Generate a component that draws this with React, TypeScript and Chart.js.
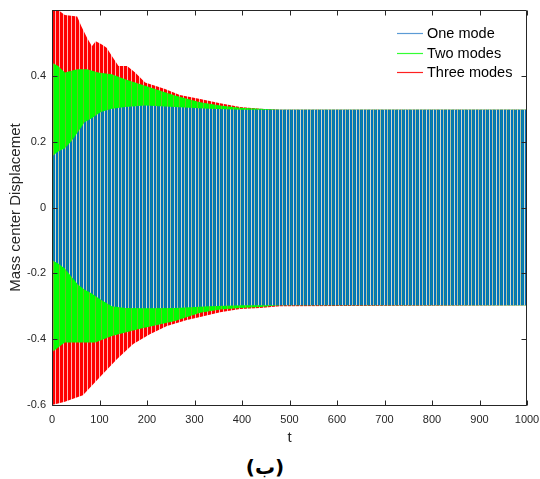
import React, { useEffect, useRef } from "react";
import { Chart, registerables } from "chart.js";

Chart.register(...registerables);

// ---- Data (envelopes of the oscillations) ----
const seriesNames = ["One mode", "Two modes", "Three modes"];
const seriesColors = ["#0072BD", "#00FF00", "#FF0000"];
const legendLineColors = ["#5b9bd5", "#33ff33", "#ff2020"];

const oneUpperT = [0, 13, 27, 40, 55, 69, 82, 103, 126, 154, 196, 259, 330, 400, 1000];
const oneUpper = [0.155, 0.17, 0.18, 0.2, 0.23, 0.26, 0.27, 0.29, 0.3, 0.305, 0.31, 0.305, 0.3, 0.297, 0.297];
const oneLowerT = [0, 13, 27, 41, 55, 69, 82, 103, 126, 154, 196, 259, 330, 400, 1000];
const oneLower = [-0.16, -0.17, -0.185, -0.21, -0.235, -0.25, -0.26, -0.28, -0.3, -0.305, -0.306, -0.305, -0.3, -0.297, -0.297];

const twoUpperT = [0, 13, 27, 53, 74, 97, 126, 154, 196, 259, 312, 354, 396, 438, 480, 1000];
const twoUpper = [0.44, 0.43, 0.41, 0.42, 0.42, 0.41, 0.405, 0.39, 0.37, 0.34, 0.32, 0.31, 0.303, 0.3, 0.297, 0.297];
const twoLowerT = [0, 27, 91, 126, 181, 259, 312, 354, 396, 438, 480, 1000];
const twoLower = [-0.44, -0.41, -0.41, -0.39, -0.37, -0.345, -0.32, -0.31, -0.305, -0.302, -0.297, -0.297];

const threeUpperT = [0, 13, 27, 53, 62, 74, 84, 92, 105, 115, 126, 140, 158, 175, 196, 217, 238, 269, 312, 354, 396, 438, 480, 1000];
const threeUpper = [0.6, 0.6, 0.585, 0.58, 0.55, 0.515, 0.49, 0.505, 0.495, 0.485, 0.46, 0.43, 0.43, 0.41, 0.38, 0.37, 0.36, 0.342, 0.33, 0.317, 0.305, 0.3, 0.297, 0.297];
const threeLowerT = [0, 27, 65, 101, 137, 171, 206, 242, 284, 312, 354, 396, 438, 480, 1000];
const threeLower = [-0.6, -0.59, -0.57, -0.515, -0.46, -0.415, -0.385, -0.36, -0.342, -0.333, -0.318, -0.308, -0.305, -0.3, -0.297];

const xTicks = [0, 100, 200, 300, 400, 500, 600, 700, 800, 900, 1000];
const yTicks = [-0.6, -0.4, -0.2, 0, 0.2, 0.4];

const xTitle = "t";
const yTitle = "Mass center Displacemet";
const caption = "(ب)";

// ---- Helpers ----
const FONT = "'Liberation Sans', Arial, Helvetica, sans-serif";
const AXIS = "#262626";

function pts(t: number[], v: number[]) {
  return t.map((x, i) => ({ x, y: v[i] }));
}

function stripePattern(cols: string[]): CanvasPattern | string {
  const c = document.createElement("canvas");
  c.width = cols.length;
  c.height = 1;
  const g = c.getContext("2d");
  if (!g) return cols[0];
  cols.forEach((col, i) => {
    g.fillStyle = col;
    g.fillRect(i, 0, 1, 1);
  });
  const p = g.createPattern(c, "repeat");
  return p || cols[0];
}

const boxPlugin = {
  id: "matlabBox",
  afterDraw(chart: any) {
    const { ctx, chartArea } = chart;
    const { left, right, top, bottom } = chartArea;
    const xs = chart.scales.x;
    const ys = chart.scales.y;
    ctx.save();
    ctx.strokeStyle = AXIS;
    ctx.lineWidth = 1;
    const L = Math.round(left) + 0.5;
    const R = Math.round(right) - 0.5;
    const T = Math.round(top) + 0.5;
    const B = Math.round(bottom) + 0.5;
    ctx.beginPath();
    ctx.rect(L, T, R - L, B - T);
    const tl = 5;
    xTicks.forEach((v) => {
      const px = Math.round(xs.getPixelForValue(v)) + 0.5;
      ctx.moveTo(px, B);
      ctx.lineTo(px, B - tl);
      ctx.moveTo(px, T);
      ctx.lineTo(px, T + tl);
    });
    yTicks.forEach((v) => {
      const py = Math.round(ys.getPixelForValue(v)) + 0.5;
      ctx.moveTo(L, py);
      ctx.lineTo(L + tl, py);
      ctx.moveTo(R, py);
      ctx.lineTo(R - tl, py);
    });
    ctx.stroke();
    ctx.restore();
  },
};

const legendPlugin = {
  id: "innerLegend",
  afterDraw(chart: any) {
    const { ctx, chartArea } = chart;
    const x0 = chartArea.right - 130;
    const y0 = chartArea.top + 23;
    ctx.save();
    ctx.font = `14.5px ${FONT}`;
    ctx.textBaseline = "middle";
    ctx.textAlign = "left";
    seriesNames.forEach((name, i) => {
      const y = Math.round(y0 + i * 19.5) + 0.5;
      ctx.strokeStyle = legendLineColors[i];
      ctx.lineWidth = 1.2;
      ctx.beginPath();
      ctx.moveTo(x0, y);
      ctx.lineTo(x0 + 26, y);
      ctx.stroke();
      ctx.fillStyle = "#000";
      ctx.fillText(name, x0 + 30, y);
    });
    ctx.restore();
  },
};

export default function App() {
  const ref = useRef<HTMLCanvasElement>(null);

  useEffect(() => {
    document.body.style.margin = "0";
    const canvas = ref.current;
    if (!canvas) return;

    const bluePat = stripePattern(["#0072bd", "#0072bd", "#b8c8a0", "#0072bd", "#138690", "#0072bd", "#d0dcd0"]);
    const greenPat = stripePattern(["#00ff00", "#00ff00", "#00ff00", "#00ff00", "#00ff00", "#6cc020"]);
    const redPat = stripePattern(["#ff0000", "#ff0000", "#ff0000", "#ffb4b4"]);
    const pats = [bluePat, greenPat, redPat];

    const uppers = [pts(oneUpperT, oneUpper), pts(twoUpperT, twoUpper), pts(threeUpperT, threeUpper)];
    const lowers = [pts(oneLowerT, oneLower), pts(twoLowerT, twoLower), pts(threeLowerT, threeLower)];

    const datasets: any[] = [];
    seriesNames.forEach((name, i) => {
      datasets.push({
        label: name,
        data: uppers[i],
        borderColor: seriesColors[i],
        backgroundColor: pats[i],
        borderWidth: 0,
        pointRadius: 0,
        fill: "+1",
        tension: 0,
      });
      datasets.push({
        label: name + " (lower)",
        data: lowers[i],
        borderColor: seriesColors[i],
        backgroundColor: pats[i],
        borderWidth: 0,
        pointRadius: 0,
        fill: false,
        tension: 0,
      });
    });

    const chart = new Chart(canvas, {
      type: "line",
      data: { datasets },
      options: {
        responsive: false,
        animation: false,
        devicePixelRatio: 1,
        layout: { padding: { left: 0, top: 10, right: 13, bottom: 0 } },
        plugins: {
          legend: { display: false },
          tooltip: { enabled: false },
        },
        scales: {
          x: {
            type: "linear",
            min: 0,
            max: 1000,
            afterBuildTicks: (s: any) => {
              s.ticks = xTicks.map((v) => ({ value: v }));
            },
            afterFit: (s: any) => {
              s.height = 43;
              s.paddingLeft = 0;
              s.paddingRight = 0;
            },
            grid: { display: false, drawTicks: false },
            border: { display: false },
            ticks: {
              padding: 8,
              autoSkip: false,
              maxRotation: 0,
              color: AXIS,
              font: { family: FONT, size: 11 },
              callback: (v: any) => String(v),
            },
            title: {
              display: true,
              text: xTitle,
              color: AXIS,
              font: { family: FONT, size: 15 },
              padding: { top: 0, bottom: 1 },
            },
          },
          y: {
            type: "linear",
            min: -0.6,
            max: 0.6,
            afterBuildTicks: (s: any) => {
              s.ticks = yTicks.map((v) => ({ value: v }));
            },
            afterFit: (s: any) => {
              s.width = 52;
              s.paddingTop = 0;
              s.paddingBottom = 0;
            },
            grid: { display: false, drawTicks: false },
            border: { display: false },
            ticks: {
              padding: 6,
              autoSkip: false,
              color: AXIS,
              font: { family: FONT, size: 11 },
              callback: (v: any) => (Math.abs(v) < 1e-9 ? "0" : Number(v).toFixed(1)),
            },
            title: {
              display: true,
              text: yTitle,
              color: AXIS,
              font: { family: FONT, size: 15 },
              padding: { top: 7, bottom: 0 },
            },
          },
        },
      } as any,
      plugins: [boxPlugin, legendPlugin],
    });

    return () => chart.destroy();
  }, []);

  return (
    <div style={{ position: "relative", width: 540, height: 479, background: "#fff" }}>
      <canvas ref={ref} width={540} height={448} style={{ display: "block", width: 540, height: 448 }} />
      <div
        style={{
          position: "absolute",
          left: 0,
          top: 455,
          width: 530,
          textAlign: "center",
          fontFamily: "'DejaVu Sans', sans-serif",
          fontWeight: "bold",
          fontSize: 20,
          lineHeight: "24px",
          color: "#000",
        }}
      >
        {caption}
      </div>
    </div>
  );
}
